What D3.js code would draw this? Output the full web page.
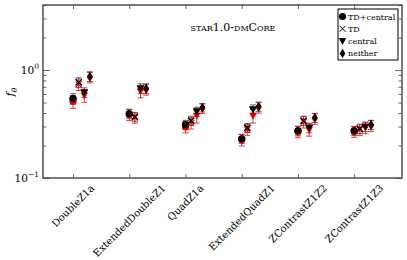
<!DOCTYPE html>
<html>
<head>
<meta charset="utf-8">
<script src="https://cdnjs.cloudflare.com/ajax/libs/d3/7.8.5/d3.min.js"></script>
<style>
  body { margin: 0; background: #fff; }
  svg text { font-family: "DejaVu Serif", "Liberation Serif", serif; fill: #000; }
</style>
</head>
<body>
<div id="chart"></div>
<script>
var categories = ["DoubleZ1a", "ExtendedDoubleZ1", "QuadZ1a", "ExtendedQuadZ1", "ZContrastZ1Z2", "ZContrastZ1Z3"];
var seriesNames = ["TD+central", "TD", "central", "neither"];

// black points
var tdCentral = [0.544, 0.394, 0.312, 0.231, 0.274, 0.274];
var td        = [0.767, 0.370, 0.339, 0.292, 0.340, 0.286];
var central   = [0.619, 0.675, 0.412, 0.430, 0.292, 0.299];
var neither   = [0.873, 0.675, 0.449, 0.459, 0.362, 0.312];
var tdCentralErr = [0.060, 0.040, 0.030, 0.022, 0.028, 0.026];
var tdErr        = [0.080, 0.035, 0.034, 0.028, 0.034, 0.028];
var centralErr   = [0.065, 0.070, 0.040, 0.045, 0.030, 0.030];
var neitherErr   = [0.090, 0.070, 0.040, 0.045, 0.035, 0.030];

// red points
var tdCentralRed = [0.511, 0.385, 0.297, 0.226, 0.268, 0.268];
var tdRed        = [0.736, 0.362, 0.324, 0.280, 0.330, 0.280];
var centralRed   = [0.582, 0.633, 0.378, 0.378, 0.280, 0.292];
var neitherRed   = [0.855, 0.660, 0.440, 0.449, 0.354, 0.305];
var tdCentralRedErr = [0.070, 0.045, 0.035, 0.028, 0.032, 0.030];
var tdRedErr        = [0.090, 0.040, 0.040, 0.032, 0.040, 0.032];
var centralRedErr   = [0.080, 0.080, 0.055, 0.055, 0.036, 0.035];
var neitherRedErr   = [0.095, 0.075, 0.045, 0.050, 0.040, 0.035];

var yTickValues = [0.1, 1];
var titleText = "star1.0-dmCore";

var blackSeries = [tdCentral, td, central, neither];
var blackErrs = [tdCentralErr, tdErr, centralErr, neitherErr];
var redSeries = [tdCentralRed, tdRed, centralRed, neitherRed];
var redErrs = [tdCentralRedErr, tdRedErr, centralRedErr, neitherRedErr];
var seriesOffset = [0, 0.1, 0.2, 0.3];

var svg_Width = 407, svg_Height = 260;
var margin = { top: 5, right: 5, bottom: 82, left: 43 };
var chart_Width = svg_Width - margin.left - margin.right;
var chart_Height = svg_Height - margin.top - margin.bottom;

var svg = d3.select("#chart").append("svg")
  .attr("width", svg_Width).attr("height", svg_Height);
var g = svg.append("g")
  .attr("transform", "translate(" + margin.left + "," + margin.top + ")");

var x = d3.scaleLinear().domain([-0.534, 5.85]).range([0, chart_Width]);
var y = d3.scaleLog().domain([0.1, 4]).range([chart_Height, 0]);

// marker shapes
function markerPath(k) {
  if (k === 0) return d3.symbol(d3.symbolCircle, 40)();
  if (k === 1) return "M-3,-3L3,3M-3,3L3,-3";
  if (k === 2) return "M-3.8,-3L3.8,-3L0,4Z";
  return "M0,-4.6L2.9,0L0,4.6L-2.9,0Z";
}

function drawSet(vals, errs, col, errCol) {
  vals.forEach(function(arr, k) {
    arr.forEach(function(v, i) {
      var px = x(i + seriesOffset[k]);
      var e = errs[k][i];
      var y0 = y(v - e), y1 = y(v + e);
      var eg = g.append("g").attr("stroke", errCol).attr("stroke-width", 1);
      eg.append("line").attr("x1", px).attr("x2", px).attr("y1", y0).attr("y2", y1);
      eg.append("line").attr("x1", px - 3).attr("x2", px + 3).attr("y1", y0).attr("y2", y0);
      eg.append("line").attr("x1", px - 3).attr("x2", px + 3).attr("y1", y1).attr("y2", y1);
      var m = g.append("path").attr("d", markerPath(k))
        .attr("transform", "translate(" + px + "," + y(v) + ")");
      if (k === 1) m.attr("fill", "none").attr("stroke", col).attr("stroke-width", 1.1);
      else m.attr("fill", col);
    });
  });
}

drawSet(blackSeries, blackErrs, "#000", "rgba(0,0,0,0.6)");
drawSet(redSeries, redErrs, "#e00000", "rgba(230,0,0,0.75)");
// black markers on top
blackSeries.forEach(function(arr, k) {
  arr.forEach(function(v, i) {
    var m = g.append("path").attr("d", markerPath(k))
      .attr("transform", "translate(" + x(i + seriesOffset[k]) + "," + y(v) + ")");
    if (k === 1) m.attr("fill", "none").attr("stroke", "#000").attr("stroke-width", 1.1);
    else m.attr("fill", "#000").attr("fill-opacity", 0.9);
  });
});

// axes
var axisCol = "#444";
var idx = d3.range(categories.length);
var bottomAxis = d3.axisBottom(x).tickValues(idx).tickSizeInner(-4).tickSizeOuter(0).tickFormat("");
var topAxis = d3.axisTop(x).tickValues(idx).tickSizeInner(-4).tickSizeOuter(0).tickFormat("");
var minor = [];
[0.1, 1].forEach(function(d) { for (var m = 2; m <= 9; m++) if (d * m <= 4) minor.push(d * m); });
var leftMajor = d3.axisLeft(y).tickValues(yTickValues).tickSizeInner(-7).tickSizeOuter(0).tickFormat("");
var rightMajor = d3.axisRight(y).tickValues(yTickValues).tickSizeInner(-7).tickSizeOuter(0).tickFormat("");
var leftMinor = d3.axisLeft(y).tickValues(minor).tickSizeInner(-3.5).tickSizeOuter(0).tickFormat("");
var rightMinor = d3.axisRight(y).tickValues(minor).tickSizeInner(-3.5).tickSizeOuter(0).tickFormat("");

var axes = [
  g.append("g").attr("transform", "translate(0," + chart_Height + ")").call(bottomAxis),
  g.append("g").call(topAxis),
  g.append("g").call(leftMajor),
  g.append("g").call(leftMinor),
  g.append("g").attr("transform", "translate(" + chart_Width + ",0)").call(rightMajor),
  g.append("g").attr("transform", "translate(" + chart_Width + ",0)").call(rightMinor)
];
axes.forEach(function(a) {
  a.select(".domain").remove();
  a.selectAll("line").attr("stroke", axisCol).attr("stroke-width", 0.8);
});
g.append("rect").attr("width", chart_Width).attr("height", chart_Height)
  .attr("fill", "none").attr("stroke", axisCol).attr("stroke-width", 1.4);

// y tick labels
yTickValues.forEach(function(v) {
  var t = g.append("text").attr("x", -4).attr("y", y(v) + 4)
    .attr("text-anchor", "end").style("font-size", "10.5px");
  t.append("tspan").text("10");
  t.append("tspan").attr("dy", -5).style("font-size", "7.5px")
    .text(v < 1 ? "\u22121" : "0");
});

// x tick labels rotated 45
var fs = 10;
categories.forEach(function(c, i) {
  var t = g.append("text").text(c).style("font-size", fs + "px")
    .attr("text-anchor", "middle").attr("dominant-baseline", "central");
  var w = t.node().getComputedTextLength();
  var bh = (w + fs * 0.9) * Math.SQRT1_2;
  var cx = x(i), cy = chart_Height + 5 + bh / 2;
  t.attr("x", cx).attr("y", cy).attr("transform", "rotate(-45," + cx + "," + cy + ")");
});

// y label
var yl = svg.append("text").attr("transform", "translate(14,92) rotate(-90)")
  .attr("text-anchor", "middle").style("font-size", "11px");
yl.append("tspan").style("font-style", "italic").text("f");
yl.append("tspan").attr("dy", 3).style("font-size", "8px").style("font-style", "italic").text("\u03b8");

// title
svg.append("text").attr("x", 233).attr("y", 31).attr("text-anchor", "middle")
  .style("font-size", "11px").style("font-variant", "small-caps").text(titleText);

// legend
var lg = svg.append("g").attr("transform", "translate(338,9)");
lg.append("rect").attr("width", 60).attr("height", 51)
  .attr("fill", "#fff").attr("stroke", "#000").attr("stroke-width", 1);
seriesNames.forEach(function(s, k) {
  var yy = 7.5 + k * 12.3;
  var m = lg.append("path").attr("d", markerPath(k)).attr("transform", "translate(4.5," + yy + ")");
  if (k === 1) m.attr("fill", "none").attr("stroke", "#000").attr("stroke-width", 1);
  else m.attr("fill", "#000");
  lg.append("text").attr("x", 10).attr("y", yy + 3).style("font-size", "8px").text(s);
});
</script>
</body>
</html>
